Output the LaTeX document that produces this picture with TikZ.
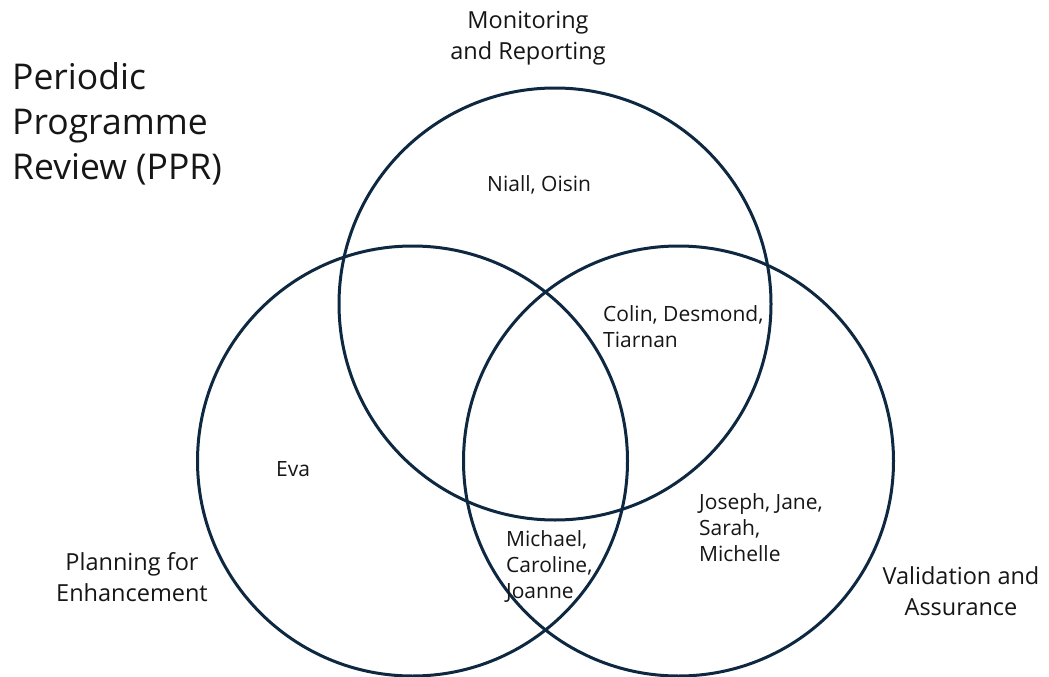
\documentclass[tikz,border=0pt]{standalone}
\usepackage{fontspec}
\setmainfont{Open Sans}
\definecolor{ring}{HTML}{0E2841}
\definecolor{ink}{HTML}{161616}
\tikzset{
  ringline/.style={draw=ring, line width=3pt},
  titletext/.style={inner sep=0pt, text=ink, align=left, anchor=north west, font=\fontsize{35.5}{45}\selectfont},
  cattext/.style={inner sep=0pt, text=ink, align=center, anchor=north, font=\fontsize{23.5}{31.5}\selectfont},
  nametext/.style={inner sep=0pt, text=ink, align=left, anchor=north west, font=\fontsize{21}{26}\selectfont},
}
\begin{document}
\begin{tikzpicture}[x=1pt, y=-1pt]
\useasboundingbox (0,0) rectangle (1049,677);
\fill[white] (0,0) rectangle (1049,677);
% circle centres
\coordinate (ctop) at (555,304);
\coordinate (cleft) at (412.5,461);
\coordinate (cright) at (678.5,461);
\draw[ringline] (ctop) circle[radius=216pt];
\draw[ringline] (cleft) circle[radius=215pt];
\draw[ringline] (cright) circle[radius=215pt];
% title
\node[titletext] (title) at (12,62) {Periodic\\Programme\\Review (PPR)};
% category labels
\node[cattext] (mon) at (528,11) {Monitoring\\and Reporting};
\node[cattext] (plan) at (132,552) {Planning for\\Enhancement};
\node[cattext] (val) at (961,566) {Validation and\\Assurance};
% names
\node[nametext] (niall) at (487,175) {Niall, Oisin};
\node[nametext] (colin) at (603,305) {Colin, Desmond,\\Tiarnan};
\node[nametext] (eva) at (276,461) {Eva};
\node[nametext] (joseph) at (699,493) {Joseph, Jane,\\Sarah,\\Michelle};
\node[nametext] (michael) at (506,530) {Michael,\\Caroline,\\Joanne};
\end{tikzpicture}
\end{document}
